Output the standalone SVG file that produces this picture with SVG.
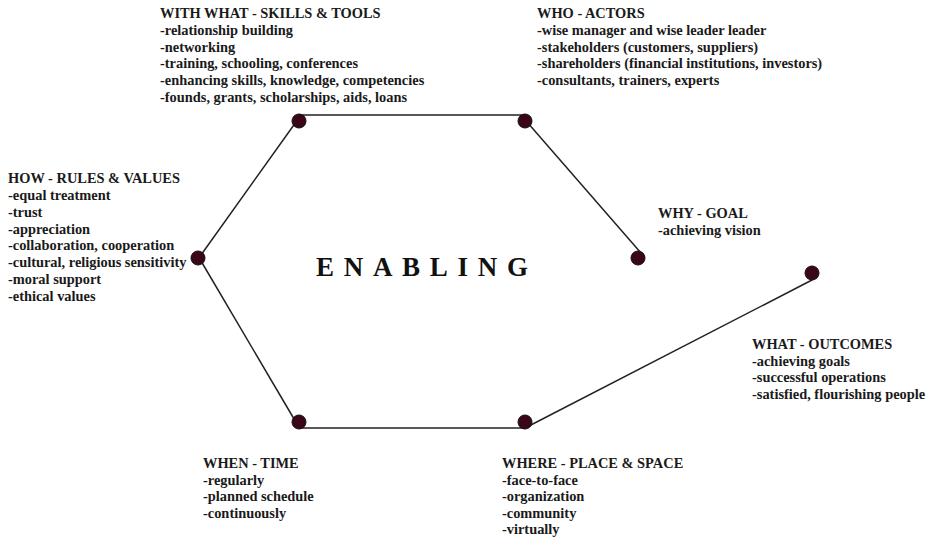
<svg xmlns="http://www.w3.org/2000/svg" width="933" height="537" viewBox="0 0 933 537">
<style>
  .t { font-family: "Liberation Serif", "Times New Roman", serif; font-size: 14.4px; font-weight: bold; fill: #1a1a1a; }
  .big { font-family: "Liberation Serif", "Times New Roman", serif; font-size: 27px; font-weight: bold; fill: #111; letter-spacing: 9.7px; }
  .ln { stroke: #222; stroke-width: 1.5; fill: none; stroke-linecap: round; }
  .dot { fill: #3b0716; stroke: #111; stroke-width: 1; }
</style>
<rect width="933" height="537" fill="#ffffff"/>
<g id="connectors">
  <line class="ln" x1="299" y1="115" x2="525" y2="115"/>
  <line class="ln" x1="527" y1="122" x2="641" y2="253"/>
  <line class="ln" x1="296" y1="122" x2="201" y2="255"/>
  <line class="ln" x1="201" y1="261" x2="297" y2="424"/>
  <line class="ln" x1="299" y1="428" x2="525" y2="428"/>
  <line class="ln" x1="527" y1="427" x2="812" y2="280"/>
</g>
<g id="center">
  <text class="big" x="316" y="276">ENABLING</text>
</g>
<g id="with-what">
  <circle class="dot" cx="299" cy="121" r="7"/>
  <text class="t" x="160" y="18">WITH WHAT - SKILLS &amp; TOOLS</text>
  <text class="t" x="160" y="35">-relationship building</text>
  <text class="t" x="160" y="51.5">-networking</text>
  <text class="t" x="160" y="68">-training, schooling, conferences</text>
  <text class="t" x="160" y="85">-enhancing skills, knowledge, competencies</text>
  <text class="t" x="160" y="101.5">-founds, grants, scholarships, aids, loans</text>
</g>
<g id="who">
  <circle class="dot" cx="525" cy="121" r="7"/>
  <text class="t" x="537" y="18">WHO - ACTORS</text>
  <text class="t" x="537" y="35">-wise manager and wise leader leader</text>
  <text class="t" x="537" y="51.5">-stakeholders (customers, suppliers)</text>
  <text class="t" x="537" y="68">-shareholders (financial institutions, investors)</text>
  <text class="t" x="537" y="85">-consultants, trainers, experts</text>
</g>
<g id="why">
  <circle class="dot" cx="638" cy="258" r="7"/>
  <text class="t" x="658" y="217.5">WHY - GOAL</text>
  <text class="t" x="658" y="234.5">-achieving vision</text>
</g>
<g id="what">
  <circle class="dot" cx="812" cy="273" r="7"/>
  <text class="t" x="752" y="348.5">WHAT - OUTCOMES</text>
  <text class="t" x="752" y="365.5">-achieving goals</text>
  <text class="t" x="752" y="382">-successful operations</text>
  <text class="t" x="752" y="398.5">-satisfied, flourishing people</text>
</g>
<g id="how">
  <circle class="dot" cx="198" cy="258" r="7"/>
  <text class="t" x="8" y="182.5">HOW - RULES &amp; VALUES</text>
  <text class="t" x="8" y="199.5">-equal treatment</text>
  <text class="t" x="8" y="216.5">-trust</text>
  <text class="t" x="8" y="233.5">-appreciation</text>
  <text class="t" x="8" y="250">-collaboration, cooperation</text>
  <text class="t" x="8" y="267">-cultural, religious sensitivity</text>
  <text class="t" x="8" y="283.5">-moral support</text>
  <text class="t" x="8" y="300.5">-ethical values</text>
</g>
<g id="when">
  <circle class="dot" cx="299" cy="422" r="7"/>
  <text class="t" x="203" y="467.5">WHEN - TIME</text>
  <text class="t" x="203" y="484.5">-regularly</text>
  <text class="t" x="203" y="501">-planned schedule</text>
  <text class="t" x="203" y="517.5">-continuously</text>
</g>
<g id="where">
  <circle class="dot" cx="525" cy="422" r="7"/>
  <text class="t" x="502" y="467.5">WHERE - PLACE &amp; SPACE</text>
  <text class="t" x="502" y="484.5">-face-to-face</text>
  <text class="t" x="502" y="501">-organization</text>
  <text class="t" x="502" y="517.5">-community</text>
  <text class="t" x="502" y="534">-virtually</text>
</g>
</svg>
